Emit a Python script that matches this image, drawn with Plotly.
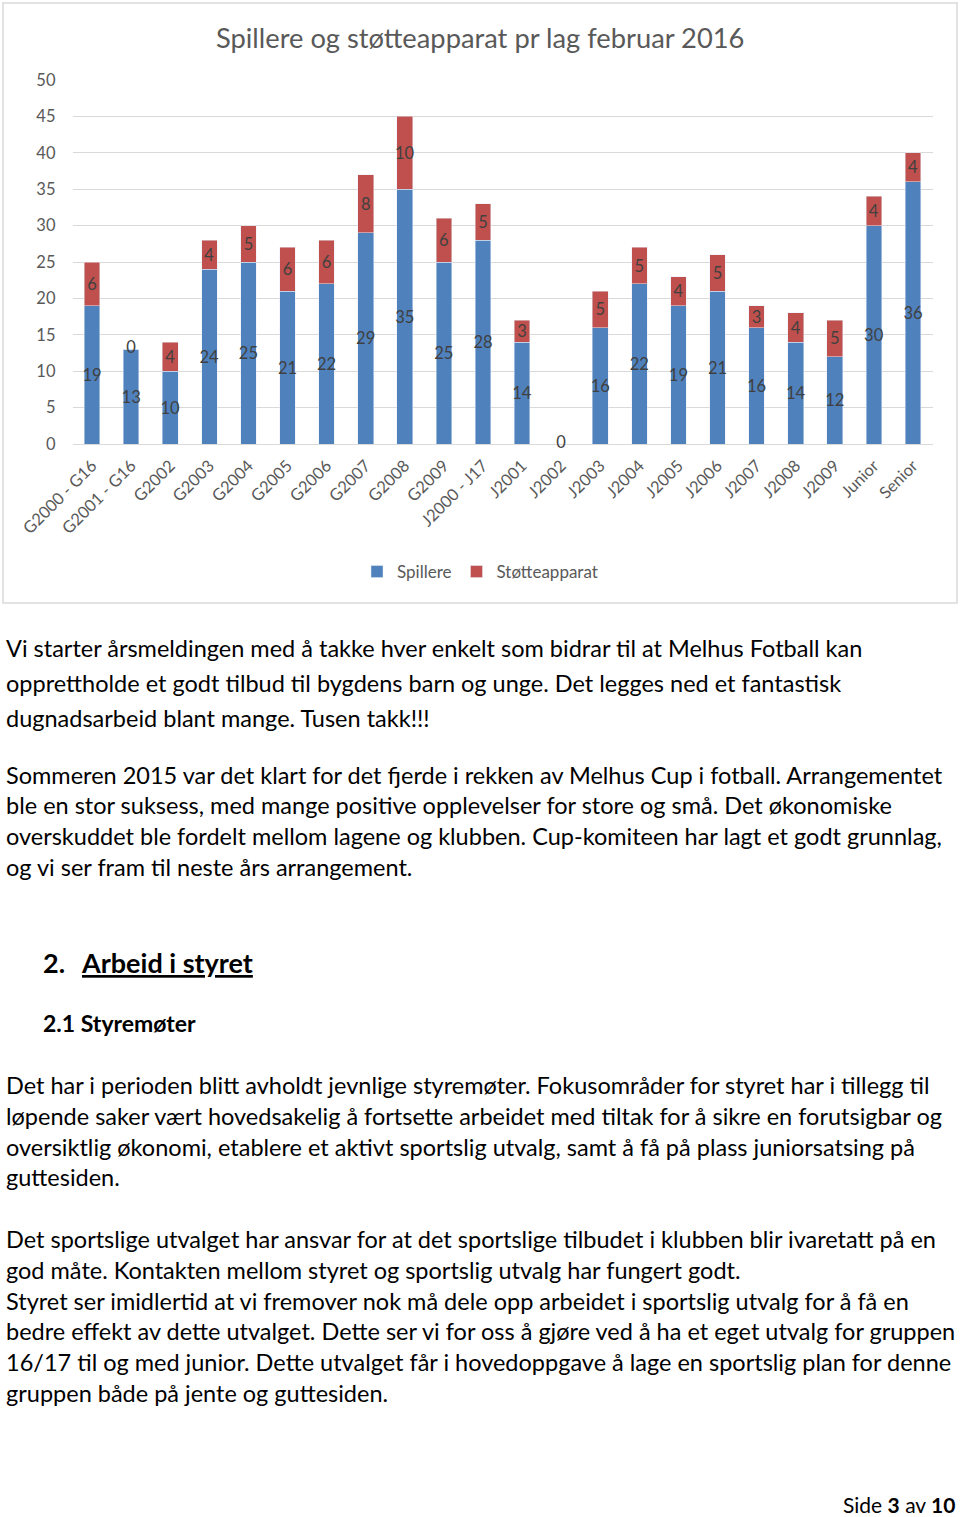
import plotly.graph_objects as go

categories = ["G2000 - G16", "G2001 - G16", "G2002", "G2003", "G2004", "G2005", "G2006",
              "G2007", "G2008", "G2009", "J2000 - J17", "J2001", "J2002", "J2003", "J2004",
              "J2005", "J2006", "J2007", "J2008", "J2009", "Junior", "Senior"]
spillere = [19, 13, 10, 24, 25, 21, 22, 29, 35, 25, 28, 14, 0, 16, 22, 19, 21, 16, 14, 12, 30, 36]
stotte = [6, 0, 4, 4, 5, 6, 6, 8, 10, 6, 5, 3, None, 5, 5, 4, 5, 3, 4, 5, 4, 4]
y_ticks = [0, 5, 10, 15, 20, 25, 30, 35, 40, 45, 50]

title_text = "Spillere og støtteapparat pr lag februar 2016"

para1 = ["Vi starter årsmeldingen med å takke hver enkelt som bidrar til at Melhus Fotball kan",
         "opprettholde et godt tilbud til bygdens barn og unge. Det legges ned et fantastisk",
         "dugnadsarbeid blant mange. Tusen takk!!!"]
para2 = ["Sommeren 2015 var det klart for det fjerde i rekken av Melhus Cup i fotball. Arrangementet",
         "ble en stor suksess, med mange positive opplevelser for store og små. Det økonomiske",
         "overskuddet ble fordelt mellom lagene og klubben. Cup-komiteen har lagt et godt grunnlag,",
         "og vi ser fram til neste års arrangement."]
para3 = ["Det har i perioden blitt avholdt jevnlige styremøter. Fokusområder for styret har i tillegg til",
         "løpende saker vært hovedsakelig å fortsette arbeidet med tiltak for å sikre en forutsigbar og",
         "oversiktlig økonomi, etablere et aktivt sportslig utvalg, samt å få på plass juniorsatsing på",
         "guttesiden."]
para4 = ["Det sportslige utvalget har ansvar for at det sportslige tilbudet i klubben blir ivaretatt på en",
         "god måte. Kontakten mellom styret og sportslig utvalg har fungert godt.",
         "Styret ser imidlertid at vi fremover nok må dele opp arbeidet i sportslig utvalg for å få en",
         "bedre effekt av dette utvalget. Dette ser vi for oss å gjøre ved å ha et eget utvalg for gruppen",
         "16/17 til og med junior. Dette utvalget får i hovedoppgave å lage en sportslig plan for denne",
         "gruppen både på jente og guttesiden."]

W, H = 960, 1517
FONT = "Lato, Carlito, Calibri, sans-serif"
GRAY = "#595959"
LBL = "#404040"
BODY = 23.5

def py(p):
    return 1 - p / H

fig = go.Figure()
fig.add_trace(go.Bar(
    name="Spillere", x=categories, y=spillere, marker_color="#4F81BD",
    text=[str(v) for v in spillere], textposition="inside", insidetextanchor="middle",
    textfont=dict(color=LBL, size=16.5, family=FONT), textangle=0, hoverinfo="x+y",
))
fig.add_trace(go.Bar(
    name="Støtteapparat", x=categories, y=stotte, marker_color="#C0504D",
    text=["" if v is None else str(v) for v in stotte], textposition="inside",
    insidetextanchor="middle", textfont=dict(color=LBL, size=16.5, family=FONT), textangle=0,
    hoverinfo="x+y",
))

# zero-valued segments: Excel still prints a "0" label at the segment position
zero_x, zero_y = [], []
for c, s, t in zip(categories, spillere, stotte):
    if s == 0:
        zero_x.append(c)
        zero_y.append(0)
    if t == 0:
        zero_x.append(c)
        zero_y.append(s)
fig.add_trace(go.Scatter(
    x=zero_x, y=zero_y, mode="text", text=["0"] * len(zero_x), textposition="middle center",
    textfont=dict(color=LBL, size=16.5, family=FONT), showlegend=False, hoverinfo="skip",
    cliponaxis=False,
))

annotations = [
    dict(text=title_text, x=480 / W, y=py(38), xref="paper", yref="paper", showarrow=False,
         xanchor="center", yanchor="middle", font=dict(size=27.3, color=GRAY, family=FONT)),
]

def add_lines(lines, ys, size=BODY):
    for t, yy in zip(lines, ys):
        annotations.append(dict(text=t, x=4 / W, y=py(yy), xref="paper", yref="paper",
                                showarrow=False, xanchor="left", yanchor="middle",
                                font=dict(size=size, color="#000000", family=FONT)))

add_lines(para1, [648, 683, 718])
add_lines(para2, [775, 805, 836, 867])
add_lines(para3, [1085, 1116, 1147, 1177])
add_lines(para4, [1239, 1270, 1301, 1331, 1362, 1393])

annotations.append(dict(text="<b>2.</b>", x=41 / W, y=py(962), xref="paper", yref="paper",
                        showarrow=False, xanchor="left", yanchor="middle",
                        font=dict(size=27, color="#000000", family=FONT)))
annotations.append(dict(text="<b><u>Arbeid i styret</u></b>", x=79 / W, y=py(962), xref="paper",
                        yref="paper", showarrow=False, xanchor="left", yanchor="middle",
                        font=dict(size=27, color="#000000", family=FONT)))
annotations.append(dict(text="<b>2.1 Styremøter</b>", x=41 / W, y=py(1023), xref="paper",
                        yref="paper", showarrow=False, xanchor="left", yanchor="middle",
                        font=dict(size=23, color="#000000", family=FONT)))
annotations.append(dict(text="Side <b>3</b> av <b>10</b>", x=957 / W, y=py(1504), xref="paper",
                        yref="paper", showarrow=False, xanchor="right", yanchor="middle",
                        font=dict(size=21, color="#000000", family=FONT)))

fig.update_layout(
    width=W, height=H, barmode="stack", bargap=0.6,
    margin=dict(l=0, r=0, t=0, b=0, autoexpand=False),
    paper_bgcolor="white", plot_bgcolor="white",
    font=dict(family=FONT, color=GRAY),
    uniformtext=dict(mode="show", minsize=16.5),
    showlegend=True,
    legend=dict(orientation="h", x=480 / W, y=py(572), xanchor="center", yanchor="middle",
                font=dict(size=17, color=GRAY, family=FONT), traceorder="normal",
                itemwidth=30),
    xaxis=dict(domain=[72.5 / W, 932.5 / W], tickangle=-45, tickfont=dict(size=16.5, color=GRAY),
               showgrid=False, showline=False, ticks="", anchor="y", automargin=False,
               ticklabelstandoff=8),
    yaxis=dict(domain=[py(444), py(80)], range=[0, 50], tickvals=y_ticks,
               tickfont=dict(size=16.5, color=GRAY), gridcolor="#D9D9D9", gridwidth=1,
               zeroline=True, zerolinecolor="#D9D9D9", zerolinewidth=1, showline=False,
               ticks="", ticklabelstandoff=16, automargin=False),
    annotations=annotations,
    shapes=[dict(type="rect", xref="paper", yref="paper", x0=3 / W, x1=957 / W,
                 y0=py(603), y1=py(3), line=dict(color="#D9D9D9", width=1.5))],
)

fig.write_html("out.html", config={"displayModeBar": False},
               post_script="document.body.style.margin='0px';document.body.style.overflow='hidden';")
